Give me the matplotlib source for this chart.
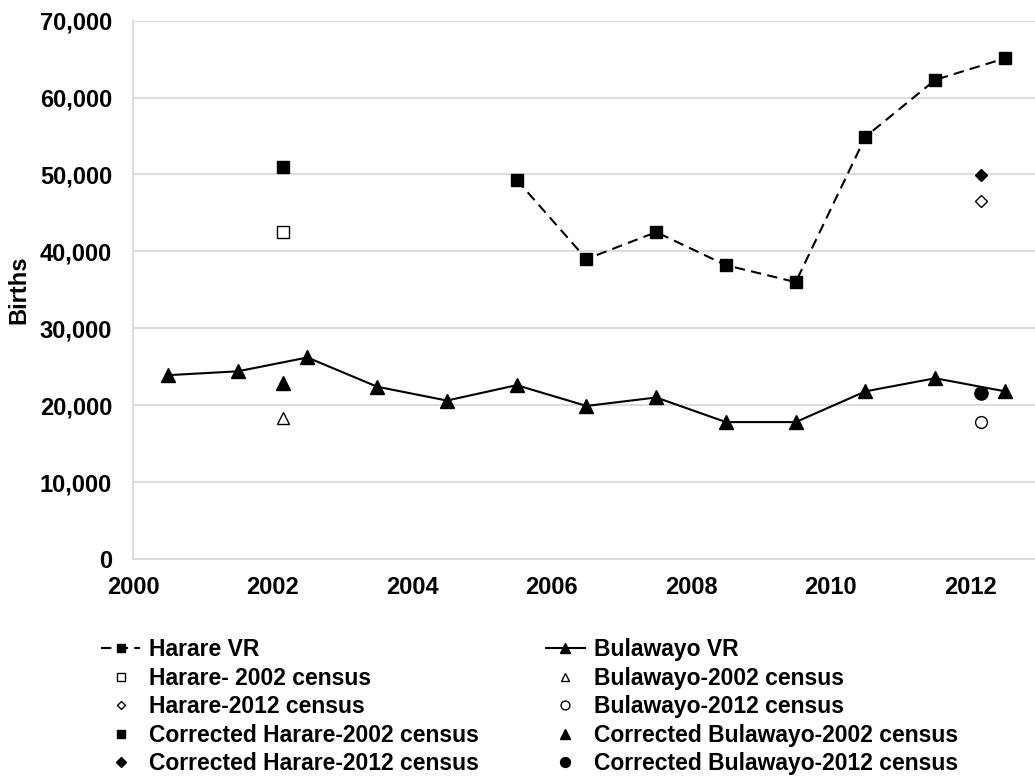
import matplotlib.pyplot as plt
import numpy as np
from matplotlib.ticker import FuncFormatter

plt.rcParams['font.family'] = ['Liberation Sans', 'DejaVu Sans']
plt.rcParams['font.weight'] = 'bold'

# vital registration years (mid-year)
vr_years = [2000.5, 2001.5, 2002.5, 2003.5, 2004.5, 2005.5, 2006.5,
            2007.5, 2008.5, 2009.5, 2010.5, 2011.5, 2012.5]
harare_vr = [None, None, None, None, None, 49300, 39000,
             42500, 38200, 36000, 54900, 62300, 65100]
bulawayo_vr = [23900, 24400, 26200, 22400, 20600, 22600, 19900,
               21000, 17800, 17800, 21800, 23500, 21800]

census_2002 = 2002.15
census_2012 = 2012.15
harare_2002 = 42500
harare_2012 = 46500
corr_harare_2002 = 51000
corr_harare_2012 = 49900
bulawayo_2002 = 18300
bulawayo_2012 = 17800
corr_bulawayo_2002 = 22900
corr_bulawayo_2012 = 21600

fig = plt.figure(figsize=(10.35, 7.78), dpi=100)
ax = fig.add_axes([0.1285, 0.2815, 0.8715, 0.692])

hx = [x for x, v in zip(vr_years, harare_vr) if v is not None]
hy = [v for v in harare_vr if v is not None]

ms = 8.5
h1, = ax.plot(hx, hy, color='black', lw=1.5, linestyle=(0, (5, 3)),
              marker='s', ms=ms, label='Harare VR')
h2, = ax.plot([census_2002], [harare_2002], ls='none', marker='s', ms=ms - 0.5,
              mfc='white', mec='black', mew=1, label='Harare- 2002 census')
h3, = ax.plot([census_2012], [harare_2012], ls='none', marker='D', ms=ms - 2.5,
              mfc='white', mec='black', mew=1, label='Harare-2012 census')
h4, = ax.plot([census_2002], [corr_harare_2002], ls='none', marker='s', ms=ms,
              color='black', label='Corrected Harare-2002 census')
h5, = ax.plot([census_2012], [corr_harare_2012], ls='none', marker='D', ms=ms - 2,
              color='black', label='Corrected Harare-2012 census')

b1, = ax.plot(vr_years, bulawayo_vr, color='black', lw=1.5, marker='^', ms=ms + 1,
              label='Bulawayo VR')
b2, = ax.plot([census_2002], [bulawayo_2002], ls='none', marker='^', ms=ms,
              mfc='white', mec='black', mew=1, label='Bulawayo-2002 census')
b3, = ax.plot([census_2012], [bulawayo_2012], ls='none', marker='o', ms=ms,
              mfc='white', mec='black', mew=1, label='Bulawayo-2012 census')
b4, = ax.plot([census_2002], [corr_bulawayo_2002], ls='none', marker='^', ms=ms + 1,
              color='black', label='Corrected Bulawayo-2002 census')
b5, = ax.plot([census_2012], [corr_bulawayo_2012], ls='none', marker='o', ms=ms + 1,
              color='black', label='Corrected Bulawayo-2012 census')

ax.set_xlim(2000, 2012.93)
ax.set_ylim(0, 70000)
ax.set_xticks(np.arange(2000, 2013, 2))
ax.set_yticks(np.arange(0, 70001, 10000))
ax.yaxis.set_major_formatter(FuncFormatter(lambda v, p: f'{int(v):,}'))
ax.tick_params(length=0, labelsize=17)
ax.tick_params(axis='y', pad=15)
ax.tick_params(axis='x', pad=12)
for lab in ax.get_xticklabels() + ax.get_yticklabels():
    lab.set_fontweight('bold')

ax.grid(axis='y', color='#dcdcdc', lw=1.5)
ax.set_axisbelow(True)
for s in ['top', 'right']:
    ax.spines[s].set_visible(False)
ax.spines['left'].set_color('#dcdcdc')
ax.spines['bottom'].set_color('#dcdcdc')
ax.spines['left'].set_linewidth(1.5)
ax.spines['bottom'].set_linewidth(1.5)

ax.set_ylabel('Births', fontsize=17, fontweight='bold', labelpad=7)

fig.legend(handles=[h1, h2, h3, h4, h5, b1, b2, b3, b4, b5], ncol=2,
           loc='upper left', bbox_to_anchor=(0.080, 0.203), frameon=False,
           handlelength=1.7, handletextpad=0.4, columnspacing=2.9,
           labelspacing=0.24, markerscale=0.75, borderpad=0.3,
           prop={'weight': 'bold', 'size': 16.5})

fig.savefig('out.png', dpi=100)
